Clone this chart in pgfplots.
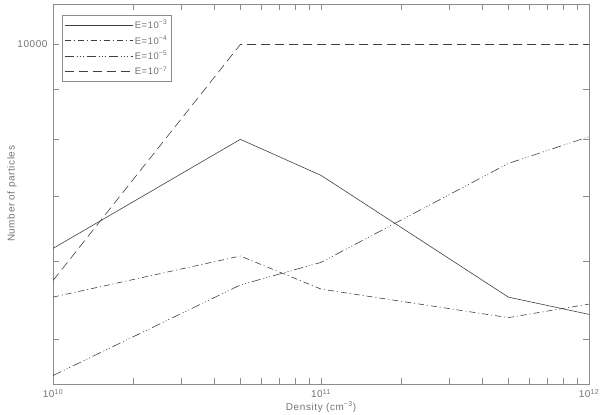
\documentclass[border=0pt]{standalone}
\usepackage{pgfplots}
\pgfplotsset{compat=1.18}
\usepackage{fontspec}
\setmainfont{Liberation Sans}[LetterSpace=6]
\definecolor{axc}{gray}{0.55}
\definecolor{txc}{gray}{0.45}
\definecolor{lnc}{gray}{0.25}
\begin{document}
\begin{tikzpicture}
\begin{axis}[
  scale only axis, width=536bp, height=380bp,
  xmode=log, ymode=log,
  xmin=1e10, xmax=1e12, ymin=4500, ymax=11000,
  axis line style={axc, line width=0.6pt},
  every tick/.style={axc, line width=0.5pt},
  major tick length=6bp, minor tick length=6bp,
  xtick={1e10,1e11,1e12},
  xticklabels={10\textsuperscript{10},10\textsuperscript{11},10\textsuperscript{12}},
  minor xtick={2e10,3e10,4e10,5e10,6e10,7e10,8e10,9e10,2e11,3e11,4e11,5e11,6e11,7e11,8e11,9e11},
  ytick={10000}, yticklabels={10000},
  minor ytick={5000,6000,7000,8000,9000},
  tick label style={font=\fontsize{10}{11}\selectfont, txc},
  xticklabel style={yshift=-2bp},
  yticklabel style={xshift=-2bp},
  label style={font=\fontsize{10}{11}\selectfont, txc},
  xlabel={Density (cm\textsuperscript{−3})},
  ylabel={Number of particles},
  xlabel style={yshift=3bp},
  ylabel style={yshift=-6bp},
  legend style={at={(0,1)}, anchor=north west, xshift=9bp, yshift=-11bp,
    draw=axc, font=\fontsize{9.5}{10}\selectfont, text=txc, inner xsep=2bp, inner ysep=3bp,
    row sep=1.6bp, cells={anchor=west}},
  legend image code/.code={\draw[#1] (0bp,0bp) -- (47bp,0bp); \path (0bp,0bp) -- (68bp,0bp);},
  every axis plot/.append style={lnc, line width=0.6pt},
  clip=true,
]
\addplot[solid] coordinates {(1e10,6190) (5e10,8000) (1e11,7350) (5e11,5520) (1e12,5300)};
\addlegendentry{E=10\textsuperscript{−3}\hspace{6bp}}
\addplot[dash pattern=on 6bp off 3bp on 1bp off 3bp] coordinates {(1e10,5520) (5e10,6080) (1e11,5625) (5e11,5260) (1e12,5430)};
\addlegendentry{E=10\textsuperscript{−4}\hspace{6bp}}
\addplot[dash pattern=on 9bp off 3bp on 1bp off 2bp on 1bp off 2bp on 1bp off 3bp] coordinates {(1e10,4590) (5e10,5680) (1e11,5990) (5e11,7560) (1e12,8050)};
\addlegendentry{E=10\textsuperscript{−5}\hspace{6bp}}
\addplot[dash pattern=on 9bp off 5bp] coordinates {(1e10,5740) (5e10,10000) (1e11,10000) (5e11,10000) (1e12,10000)};
\addlegendentry{E=10\textsuperscript{−7}\hspace{6bp}}
\end{axis}
\pgfresetboundingbox
\path (current axis.south west) ++(-53bp,-31bp) rectangle ++(600bp,415bp);
\end{tikzpicture}
\end{document}
